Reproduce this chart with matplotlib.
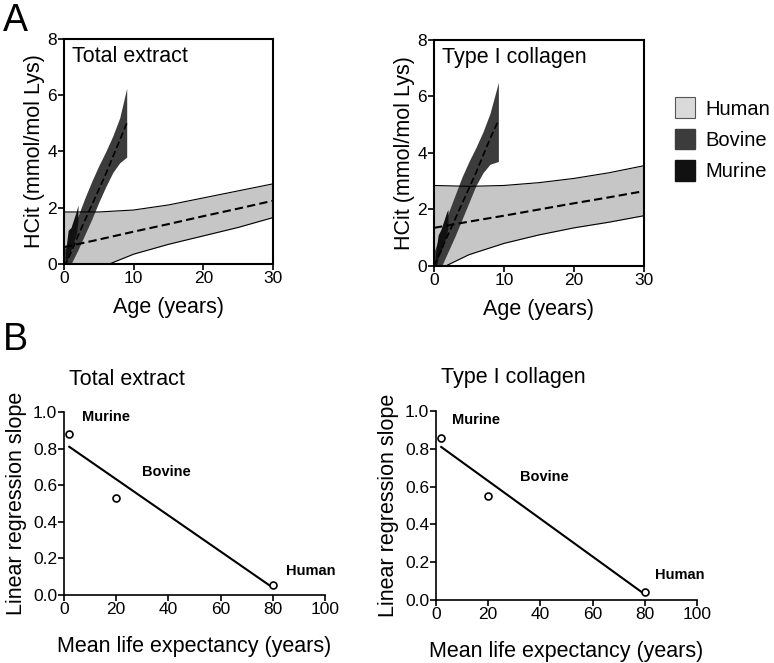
import matplotlib.pyplot as plt
from matplotlib.patches import Patch
import numpy as np

plt.rcParams["font.family"] = ["Liberation Sans", "DejaVu Sans"]

# panel A, total extract
age_h = [0, 5, 10, 15, 20, 25, 30]
te_h_mean = [0.6, 0.87, 1.15, 1.42, 1.7, 1.97, 2.25]
te_h_upper = [1.85, 1.85, 1.92, 2.1, 2.35, 2.6, 2.85]
te_h_lower = [-0.65, -0.15, 0.35, 0.7, 1.0, 1.3, 1.65]

age_b = [0, 1, 2, 3, 4, 5, 6, 7, 8, 9]
te_b_mean = [-0.1, 0.4, 1.0, 1.55, 2.1, 2.65, 3.2, 3.8, 4.4, 5.0]
te_b_upper = [0.5, 1.05, 1.7, 2.35, 2.95, 3.5, 4.0, 4.55, 5.2, 6.25]
te_b_lower = [-0.9, 0.0, 0.5, 1.05, 1.6, 2.2, 2.75, 3.25, 3.6, 3.8]

age_m = [0.2, 0.6, 1.0, 1.4, 1.8, 2.0]
te_m_upper = [0.4, 1.2, 1.3, 1.6, 1.9, 2.1]
te_m_lower = [-0.2, 0.3, 0.5, 0.8, 1.1, 1.5]

# panel A, type I collagen
col_h_mean = [1.35, 1.57, 1.78, 2.0, 2.22, 2.43, 2.65]
col_h_upper = [2.85, 2.82, 2.85, 2.95, 3.1, 3.3, 3.55]
col_h_lower = [-0.2, 0.4, 0.8, 1.1, 1.35, 1.55, 1.78]

age_b2 = [0, 1, 2, 3, 4, 5, 6, 7, 8, 9.2]
col_b_mean = [0.0, 0.55, 1.1, 1.65, 2.2, 2.75, 3.3, 3.9, 4.5, 5.15]
col_b_upper = [0.5, 1.2, 1.85, 2.5, 3.15, 3.7, 4.2, 4.75, 5.4, 6.5]
col_b_lower = [-0.9, -0.05, 0.5, 1.05, 1.65, 2.25, 2.85, 3.3, 3.6, 3.7]

col_m_upper = [0.4, 1.1, 1.3, 1.6, 1.9, 2.0]
col_m_lower = [-0.2, 0.3, 0.5, 0.8, 1.1, 1.4]

# panel B
species = ["Murine", "Bovine", "Human"]
life_exp = [2, 20, 80]
te_slope = [0.88, 0.53, 0.055]
col_slope = [0.86, 0.55, 0.04]
te_fit = [0.81, 0.04]
col_fit = [0.81, 0.03]
fit_x = [2, 80]

human_c = "#c6c6c6"
bovine_c = "#3c3c3c"
murine_c = "#111111"


def draw_age_panel(ax, title, h_mean, h_up, h_lo, bx, b_mean, b_up, b_lo, m_up, m_lo):
    ax.fill_between(age_h, h_lo, h_up, color=human_c, lw=0)
    ax.plot(age_h, h_up, color="black", lw=0.8)
    ax.plot(age_h, h_lo, color="black", lw=0.8)
    ax.fill_between(bx, b_lo, b_up, color=bovine_c, lw=0)
    ax.fill_between(age_m, m_lo, m_up, color=murine_c, lw=0)
    ax.plot(age_h, h_mean, color="black", lw=1.5, ls=(0, (4, 2)))
    ax.plot(bx, b_mean, color="black", lw=1.2, ls=(0, (4, 2)))
    ax.set_xlim(0, 30)
    ax.set_ylim(0, 8)
    ax.set_xticks([0, 10, 20, 30])
    ax.set_yticks([0, 2, 4, 6, 8])
    ax.set_xlabel("Age (years)", fontsize=15.5, labelpad=8)
    ax.set_ylabel("HCit (mmol/mol Lys)", fontsize=15.5, labelpad=2)
    ax.text(0.04, 0.97, title, transform=ax.transAxes, fontsize=15.5, va="top")
    for s in ax.spines.values():
        s.set_linewidth(1.5)
    ax.tick_params(labelsize=12.5, width=1.2, length=4, pad=1)


def draw_slope_panel(ax, title, slope, fit, label_pos):
    ax.plot(fit_x, fit, color="black", lw=1.5)
    ax.plot(life_exp, slope, "o", mfc="white", mec="black", ms=5, mew=1.2)
    for name, (lx, ly) in zip(species, label_pos):
        ax.text(lx, ly, name, fontsize=10.5, fontweight="bold")
    ax.set_xlim(0, 100)
    ax.set_ylim(0, 1.0)
    ax.set_xticks([0, 20, 40, 60, 80, 100])
    ax.set_yticks([0, 0.2, 0.4, 0.6, 0.8, 1.0])
    ax.yaxis.set_major_formatter(plt.FormatStrFormatter("%.1f"))
    ax.spines["top"].set_visible(False)
    ax.spines["right"].set_visible(False)
    for s in ["left", "bottom"]:
        ax.spines[s].set_linewidth(1.2)
    ax.tick_params(labelsize=12.5, width=1.2, length=4, pad=1)
    ax.set_xlabel("Mean life expectancy (years)", fontsize=15.5, labelpad=14)
    ax.set_ylabel("Linear regression slope", fontsize=15.5, labelpad=4)
    ax.text(0.02, 1.15, title, transform=ax.transAxes, fontsize=15.5)


fig = plt.figure(figsize=(7.74, 6.63), dpi=100)

ax1 = fig.add_axes([0.0827, 0.6018, 0.27, 0.3394])
draw_age_panel(ax1, "Total extract", te_h_mean, te_h_upper, te_h_lower,
               age_b, te_b_mean, te_b_upper, te_b_lower, te_m_upper, te_m_lower)

ax2 = fig.add_axes([0.5607, 0.5988, 0.2713, 0.3409])
draw_age_panel(ax2, "Type I collagen", col_h_mean, col_h_upper, col_h_lower,
               age_b2, col_b_mean, col_b_upper, col_b_lower, col_m_upper, col_m_lower)

handles = [Patch(facecolor="#dadada", edgecolor="#555555", lw=0.8, label="Human"),
           Patch(facecolor=bovine_c, edgecolor=bovine_c, label="Bovine"),
           Patch(facecolor=murine_c, edgecolor=murine_c, label="Murine")]
fig.legend(handles=handles, loc="center left", bbox_to_anchor=(0.872, 0.79),
           frameon=False, fontsize=14.5, handlelength=1.0, handleheight=1.2,
           labelspacing=0.5, handletextpad=0.5, borderaxespad=0, borderpad=0)

ax3 = fig.add_axes([0.0827, 0.1026, 0.3372, 0.276])
draw_slope_panel(ax3, "Total extract", te_slope, te_fit,
                 [(7, 0.95), (30, 0.65), (85, 0.11)])

ax4 = fig.add_axes([0.5633, 0.095, 0.3372, 0.285])
draw_slope_panel(ax4, "Type I collagen", col_slope, col_fit,
                 [(6, 0.93), (32, 0.63), (84, 0.11)])

fig.text(0.004, 0.995, "A", fontsize=27, va="top")
fig.text(0.004, 0.515, "B", fontsize=27, va="top")

fig.savefig("out.png", dpi=100)
